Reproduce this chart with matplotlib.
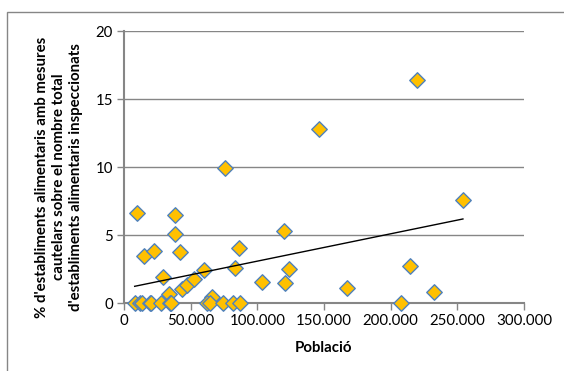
import numpy as np
import matplotlib.pyplot as plt
from matplotlib.patches import Rectangle
from matplotlib.ticker import FuncFormatter

plt.rcParams["font.family"] = ["Lato", "DejaVu Sans"]

# poblacio (habitants) i % d'establiments amb mesures cautelars
poblacio = [10100, 14800, 22600, 29300, 38500, 38500, 41800, 33500, 43500, 47300,
            52200, 59700, 66000, 75700, 83400, 85900, 103400, 120000, 120800, 123800,
            146500, 167400, 214800, 219800, 232500, 254200,
            8000, 12100, 13500, 19600, 20400, 27600, 34500, 35600, 62100, 64600,
            74500, 81400, 86800, 207500]
percentatge = [6.63, 3.46, 3.85, 1.95, 6.46, 5.12, 3.78, 0.68, 1.02, 1.34,
               1.76, 2.44, 0.44, 9.94, 2.61, 4.07, 1.56, 5.31, 1.46, 2.49,
               12.81, 1.10, 2.71, 16.40, 0.81, 7.58,
               0, 0, 0, 0, 0, 0, 0, 0, 0, 0,
               0, 0, 0, 0]
xticks = [0, 50000, 100000, 150000, 200000, 250000, 300000]
yticks = [0, 5, 10, 15, 20]

ylabel = ("% d'establiments alimentaris amb mesures\n"
          "cautelars sobre el nombre total\n"
          "d'establiments alimentaris inspeccionats")

grey = "#868686"

fig = plt.figure(figsize=(5.64, 3.71), dpi=100)
ax = fig.add_axes([124 / 564, 1 - 303.3 / 371, 400 / 564, 272 / 371])

# outer chart-area border
fig.patches.append(Rectangle((7 / 564, -0.05), 1.0, 1 - 11.5 / 371 + 0.05,
                             transform=fig.transFigure, fill=False,
                             edgecolor=grey, linewidth=1.0))

for y in yticks[1:]:
    ax.axhline(y, color=grey, linewidth=1.0, zorder=1)

x = np.array(poblacio, dtype=float)
y = np.array(percentatge)
ax.scatter(x, y, marker="D", s=62, facecolor="#FFC000", edgecolor="#4F81BD",
           linewidth=1.0, zorder=3, clip_on=False)

# linear trendline
k, b = np.polyfit(x, y, 1)
xt = np.array([x.min(), x.max()])
ax.plot(xt, k * xt + b, color="black", linewidth=1.0, zorder=4)

ax.set_xlim(0, 300000)
ax.set_ylim(0, 20)
ax.set_xticks(xticks)
ax.set_yticks(yticks)
ax.xaxis.set_major_formatter(FuncFormatter(lambda v, p: "0" if v == 0 else f"{int(v):,}".replace(",", ".")))

for s in ["top", "right"]:
    ax.spines[s].set_visible(False)
for s in ["left", "bottom"]:
    ax.spines[s].set_color(grey)
    ax.spines[s].set_linewidth(1.5)
ax.tick_params(axis="both", direction="out", length=5, width=1, color=grey,
               labelsize=10.8, labelcolor="black", pad=3)

fig.text(323 / 564, 1 - 348 / 371, "Població", ha="center", va="center",
         fontsize=10.8, fontweight="bold")
fig.text(59 / 564, 1 - 177 / 371, ylabel, ha="center", va="center",
         rotation=90, fontsize=10.8, fontweight="bold", linespacing=1.3,
         multialignment="center")

fig.savefig("out.png", dpi=100)
